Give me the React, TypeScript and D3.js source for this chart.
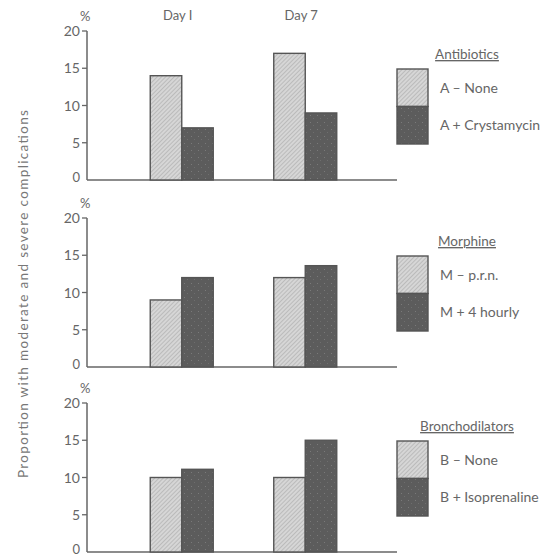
import * as d3 from "d3";

// data
const days = ["Day I", "Day 7"];
const yTicks = [0, 5, 10, 15, 20];

const panelTitles = ["Antibiotics", "Morphine", "Bronchodilators"];
const seriesLabels = [
  ["A \u2013 None", "A + Crystamycin"],
  ["M \u2013 p.r.n.", "M + 4 hourly"],
  ["B \u2013 None", "B + Isoprenaline"],
];
// [panel][series][day]
const antibioticsValues = [
  [14, 17],
  [7, 9],
];
const morphineValues = [
  [9, 12],
  [12, 13.6],
];
const bronchodilatorValues = [
  [10, 10],
  [11.1, 15],
];
const panelValues = [antibioticsValues, morphineValues, bronchodilatorValues];

const W = 559;
const H = 557;
const ink = "#666";
const font = "Lato, 'DejaVu Sans', sans-serif";

const panelTops = [31, 218, 403];
const panelH = 149;
const axisX = 87;
const baseEnd = 397;

const x = d3.scaleBand<string>().domain(days).range([120, 367]);
const groupW = 63;
const xInner = d3.scaleBand<number>().domain([0, 1]).range([0, groupW]);

function Panel({ idx }: { idx: number }) {
  const top = panelTops[idx];
  const y = d3.scaleLinear().domain([0, 20]).range([top + panelH, top]);
  const values = panelValues[idx];
  const legendX = 397;
  const boxTop = top + 38;
  const boxH = 75;
  return (
    <g>
      {/* axes */}
      <line x1={axisX} x2={axisX} y1={y(20)} y2={y(0)} stroke={ink} strokeWidth={1.5} />
      <line x1={axisX} x2={baseEnd} y1={y(0)} y2={y(0)} stroke={ink} strokeWidth={1.5} />
      {yTicks.map((t) => (
        <g key={t}>
          {t > 0 && (
            <line x1={axisX - 5} x2={axisX} y1={y(t)} y2={y(t)} stroke={ink} strokeWidth={1.3} />
          )}
          <text
            x={axisX - 7}
            y={y(t)}
            dy={t === 0 ? "0.12em" : "0.36em"}
            textAnchor="end"
            fontSize={t === 0 ? 13 : 14}
            fill={ink}
            fontFamily={font}
          >
            {t}
          </text>
        </g>
      ))}
      <text x={80} y={y(20) - 10} fontSize={13} fill={ink} fontFamily={font}>
        %
      </text>

      {/* bars */}
      {days.map((d, di) =>
        values.map((s, si) => {
          const gx = x(d)! + x.bandwidth() / 2 - groupW / 2;
          return (
            <rect
              key={d + si}
              x={gx + xInner(si)!}
              width={xInner.bandwidth()}
              y={y(s[di])}
              height={y(0) - y(s[di])}
              fill={si === 0 ? "url(#hatch)" : "url(#dark)"}
              stroke="#555"
              strokeWidth={1.4}
            />
          );
        })
      )}

      {/* legend */}
      <text
        x={legendX + 70}
        y={top + 28}
        textAnchor="middle"
        fontSize={13.5}
        fill={ink}
        fontFamily={font}
        textDecoration="underline"
      >
        {panelTitles[idx]}
      </text>
      <rect x={legendX} y={boxTop} width={31} height={boxH / 2} fill="url(#hatch)" stroke="#555" strokeWidth={1.4} />
      <rect x={legendX} y={boxTop + boxH / 2} width={31} height={boxH / 2} fill="url(#dark)" stroke="#555" strokeWidth={1.4} />
      {seriesLabels[idx].map((lab, i) => (
        <text
          key={lab}
          x={legendX + 43}
          y={boxTop + boxH / 4 + (i * boxH) / 2}
          dy="0.35em"
          fontSize={14}
          fill={ink}
          fontFamily={font}
        >
          {lab}
        </text>
      ))}
    </g>
  );
}

export default function App() {
  return (
    <svg width={W} height={H} style={{ position: "absolute", left: 0, top: 0, background: "#fff" }}>
      <defs>
        <pattern id="hatch" width={3} height={3} patternUnits="userSpaceOnUse" patternTransform="rotate(45)">
          <rect width={3} height={3} fill="#d6d6d6" />
          <line x1={0} y1={0} x2={0} y2={3} stroke="#a0a0a0" strokeWidth={1} />
        </pattern>
        <pattern id="dark" width={7} height={7} patternUnits="userSpaceOnUse">
          <rect width={7} height={7} fill="#5c5c5c" />
          <rect x={2} y={3} width={1} height={1} fill="#7a7a7a" />
          <rect x={5} y={6} width={1} height={1} fill="#6e6e6e" />
        </pattern>
      </defs>

      {days.map((d) => (
        <text
          key={d}
          x={x(d)! + x.bandwidth() / 2 - 4}
          y={20}
          textAnchor="middle"
          fontSize={13}
          fill={ink}
          fontFamily={font}
        >
          {d}
        </text>
      ))}

      <text
        transform="translate(28,294) rotate(-90)"
        textAnchor="middle"
        fontSize={13.5}
        fill="#777"
        fontFamily={font}
        textLength={368}
        lengthAdjust="spacing"
      >
        Proportion with moderate and severe complications
      </text>

      {panelTitles.map((_, i) => (
        <Panel key={i} idx={i} />
      ))}
    </svg>
  );
}
